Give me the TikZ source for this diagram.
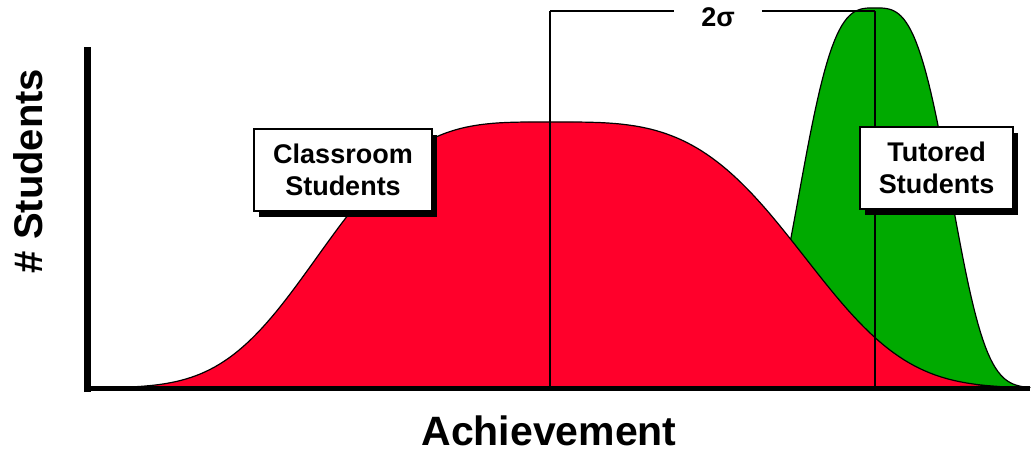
\documentclass[tikz,border=0pt]{standalone}
\usepackage{fontspec}
\setmainfont{Liberation Sans}
\usetikzlibrary{shadows}
\definecolor{classred}{RGB}{255,0,43}
\definecolor{tutorgreen}{RGB}{0,170,0}
\tikzset{
  labelbox/.style={draw=black,line width=1.2pt,fill=white,align=center,
    font=\bfseries\fontsize{27}{32}\selectfont,
    drop shadow={shadow xshift=5pt,shadow yshift=-6pt,fill=black,opacity=1}},
  curve/.style={draw=black,line width=1.2pt,line join=round},
}
\begin{document}
\begin{tikzpicture}[x=1pt,y=-1pt]
\useasboundingbox (0,0) rectangle (1032,452);

% Tutored distribution
\filldraw[curve,fill=tutorgreen] (760,388)
  -- plot[domain=760:1030,samples=110] (\x,{388-380*exp(-pow((abs(\x-875)+0.01)/86,3.2))})
  -- cycle;

% Classroom distribution
\filldraw[curve,fill=classred] (130,388)
  -- plot[domain=130:550,samples=90] (\x,{388-266*exp(-pow((abs(550-\x)+0.01)/257,3.5))})
  -- plot[domain=550:1000,samples=90] (\x,{388-266*exp(-pow((abs(\x-550)+0.01)/281,3.5))})
  -- cycle;

% Means and the 2 sigma gap
\coordinate (classmean) at (550,11);
\coordinate (tutormean) at (875,11);
\coordinate (classfoot) at (550,388);
\coordinate (tutorfoot) at (875,388);
\draw[line width=2pt] (classmean) -- (classfoot);
\draw[line width=2pt] (tutormean) -- (tutorfoot);
\node[font=\bfseries\fontsize{27}{32}\selectfont,inner xsep=27pt,anchor=base] (sigma) at (718,27) {2σ};
\draw[line width=1.5pt] (classmean) -- (classmean -| sigma.west);
\draw[line width=1.5pt] (tutormean -| sigma.east) -- (tutormean);

% Axes
\coordinate (ytop) at (87,47);
\coordinate (xend) at (1030,388);
\draw[line width=7pt] (87,392) -- (ytop);
\draw[line width=5pt] (84,388) -- (xend);

% Labels
\node[labelbox,minimum width=178pt,minimum height=82pt] (classbox) at (343,170) {Classroom\\Students};
\node[labelbox,minimum width=153pt,minimum height=82pt] (tutorbox) at (936.5,168) {Tutored\\Students};
\node[font=\bfseries\fontsize{40}{48}\selectfont,rotate=90,anchor=base,inner sep=0pt] (ylabel) at (42,171) {\# Students};
\node[font=\bfseries\fontsize{41}{48}\selectfont,anchor=base,inner sep=0pt] (xlabel) at (549,445) {Achievement};
\end{tikzpicture}
\end{document}
